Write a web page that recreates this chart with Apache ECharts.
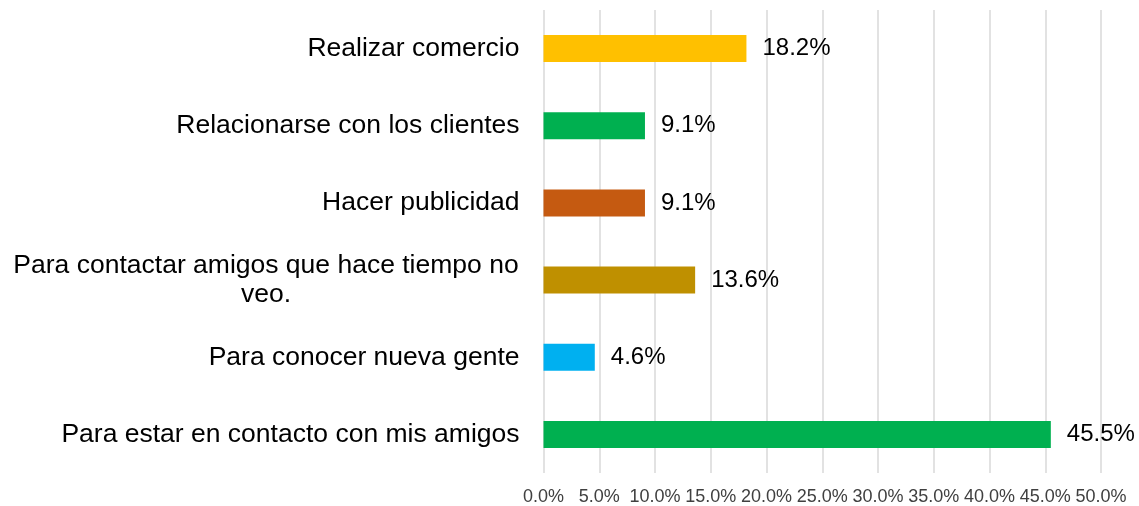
<!DOCTYPE html>
<html>
<head>
<meta charset="utf-8">
<script src="https://cdn.jsdelivr.net/npm/echarts@6/dist/echarts.min.js"></script>
<style>
  html, body { margin: 0; padding: 0; background: #fff; }
  #chart { width: 1139px; height: 506px; }
</style>
</head>
<body>
<div id="chart"></div>
<script>
  const categories = [
    "Realizar comercio",
    "Relacionarse con los clientes",
    "Hacer publicidad",
    "Para contactar amigos que hace tiempo no veo.",
    "Para conocer nueva gente",
    "Para estar en contacto con mis amigos"
  ];
  const values = [18.2, 9.1, 9.1, 13.6, 4.6, 45.5];
  const barColors = ["#FFC000", "#00B050", "#C55A11", "#BF9000", "#00B0F0", "#00B050"];

  const FONT = "'Liberation Sans', Arial, sans-serif";
  const chart = echarts.init(document.getElementById("chart"));

  chart.setOption({
    animation: false,
    textStyle: { fontFamily: FONT },
    grid: { left: 543.5, right: 38, top: 10, height: 464 },
    xAxis: {
      type: "value",
      min: 0,
      max: 50,
      interval: 5,
      axisLine: { show: false },
      axisTick: { show: false },
      axisLabel: {
        color: "#404040",
        fontFamily: FONT,
        fontSize: 18,
        margin: 15,
        formatter: (v) => v.toFixed(1) + "%"
      },
      splitLine: { lineStyle: { color: "#D9D9D9", width: 1.5 } }
    },
    yAxis: {
      type: "category",
      inverse: true,
      data: categories,
      axisLine: { show: false },
      axisTick: { show: false },
      axisLabel: {
        color: "#000",
        fontFamily: FONT,
        fontSize: 26.5,
        margin: 24,
        formatter(value) {
          if (value.startsWith("Para contactar")) {
            return "{c|Para contactar amigos que hace tiempo no}\n{c|veo.}";
          }
          return value;
        },
        rich: {
          c: { width: 507, align: "center", fontSize: 26.5, fontFamily: FONT, color: "#000", lineHeight: 29 }
        }
      }
    },
    series: [{
      type: "bar",
      barWidth: "35%",
      data: values.map((v, i) => ({ value: v, itemStyle: { color: barColors[i] } })),
      label: {
        show: true,
        position: "right",
        distance: 16,
        color: "#000",
        fontFamily: FONT,
        fontSize: 24,
        formatter: (p) => p.value.toFixed(1) + "%"
      }
    }]
  });
</script>
</body>
</html>
